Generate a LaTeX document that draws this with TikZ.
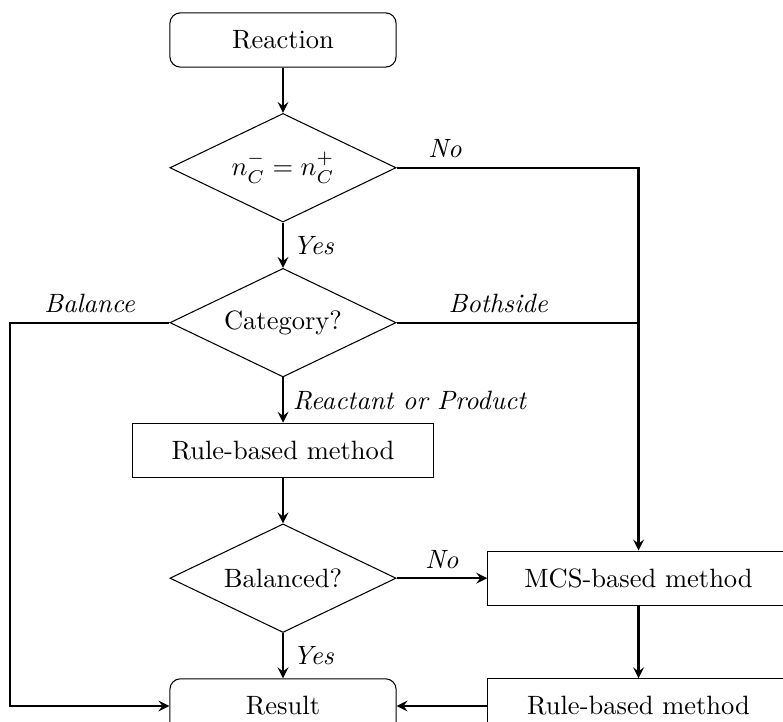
\documentclass[tikz,border=0pt]{standalone}
\usepackage{amsmath}
\usetikzlibrary{shapes, arrows, positioning, calc}

\begin{document}
\begin{tikzpicture}[x=0.01326cm, y=-0.01326cm, node distance=0.6cm,
	terminal/.style={draw, rounded corners=4pt, minimum width=3cm, minimum height=0.72cm},
	process/.style={draw, minimum width=4cm, minimum height=0.72cm},
	decision/.style={draw, diamond, aspect=2, inner sep=0pt, minimum width=3cm, minimum height=1.44cm},
	flow/.style={->, >=stealth, thick},
	lbl/.style={font=\itshape}]
	\path[use as bounding box, clip] (0,0) rectangle (783,722);
	\node[terminal] (reaction) at (283,40) {Reaction};
	\node[decision, below=of reaction] (count) {$n_C^- = n_C^+$};
	\node[decision, below=of count] (category) {Category?};
	\node[process, below=of category] (rule) {Rule-based method};
	\node[decision, below=of rule] (balanced) {Balanced?};
	\node[terminal, below=of balanced] (result) {Result};
	\node[process, right=1.2cm of balanced] (mcs) {MCS-based method};
	\node[process] (rulemcs) at (mcs |- result) {Rule-based method};
	\coordinate (leftrail) at (10,0);
	\draw[flow] (reaction) -- (count);
	\draw[flow] (count) -- node[lbl, right] {Yes} (category);
	\draw[flow] (count.east) -- node[lbl, above, pos=0.2] {No} (count.east -| mcs.north) -- (mcs);
	\draw[thick] (category.east) -- node[lbl, above, pos=0.42] {Bothside} (category.east -| mcs.north);
	\draw[flow] (category.west) -- node[lbl, above] {Balance} (category.west -| leftrail) -- (result.west -| leftrail) -- (result);
	\draw[flow] (category) -- node[lbl, right] {Reactant or Product} (rule);
	\draw[flow] (rule) -- (balanced);
	\draw[flow] (balanced) -- node[lbl, above] {No} (mcs);
	\draw[flow] (balanced) -- node[lbl, right] {Yes} (result);
	\draw[flow] (mcs) -- (rulemcs);
	\draw[flow] (rulemcs) -- (result);
\end{tikzpicture}
\end{document}
